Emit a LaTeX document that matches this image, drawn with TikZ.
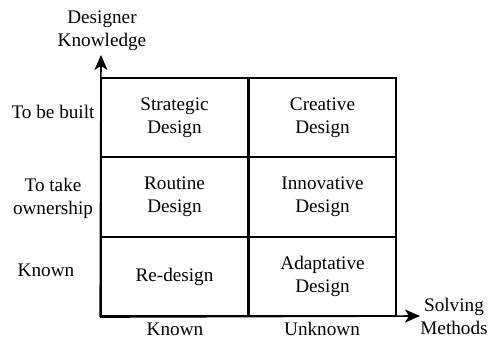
\documentclass[tikz,border=0pt]{standalone}
\usepackage{fontspec}
\setmainfont{Liberation Serif}
\usetikzlibrary{arrows.meta}
\begin{document}
\begin{tikzpicture}[x=1pt,y=1pt,
  every node/.style={font=\fontsize{19.2}{23}\selectfont, align=center, inner sep=0pt},
  cell/.style={draw, line width=1.6pt, minimum width=147pt, minimum height=79.5pt},
  axis/.style={line width=1.6pt, -{Stealth[length=15pt,width=13pt,inset=4pt]}}]
\useasboundingbox (0,0) rectangle (492,339);
% cells (y = 339 - image y)
\node[cell] (c11) at (174.5,221.5) {Strategic\\Design};
\node[cell] (c12) at (322.5,221.5) {Creative\\Design};
\node[cell] (c21) at (174.5,142) {Routine\\Design};
\node[cell] (c22) at (322.5,142) {Innovative\\Design};
\node[cell] (c31) at (174.5,62.5) {Re-design};
\node[cell] (c32) at (322.5,62.5) {Adaptative\\Design};
% axes
\coordinate (o) at (c31.south west);
\coordinate (ytop) at (101,284);
\coordinate (xend) at (420,23);
\draw[axis] (o) -- (ytop);
\draw[axis] (o) -- (xend);
% axis titles
\node (ylab) at (102,308) {Designer\\Knowledge};
\node (xlab) at (454,22.5) {Solving\\Methods};
% row labels
\node (r1) at (53,227) {To be built};
\node (r2) at (53,141) {To take\\ownership};
\node (r3) at (46,69) {Known};
% column labels
\node[anchor=base] (k1) at (175,3) {Known};
\node[anchor=base] (k2) at (322,3) {Unknown};
\end{tikzpicture}
\end{document}
